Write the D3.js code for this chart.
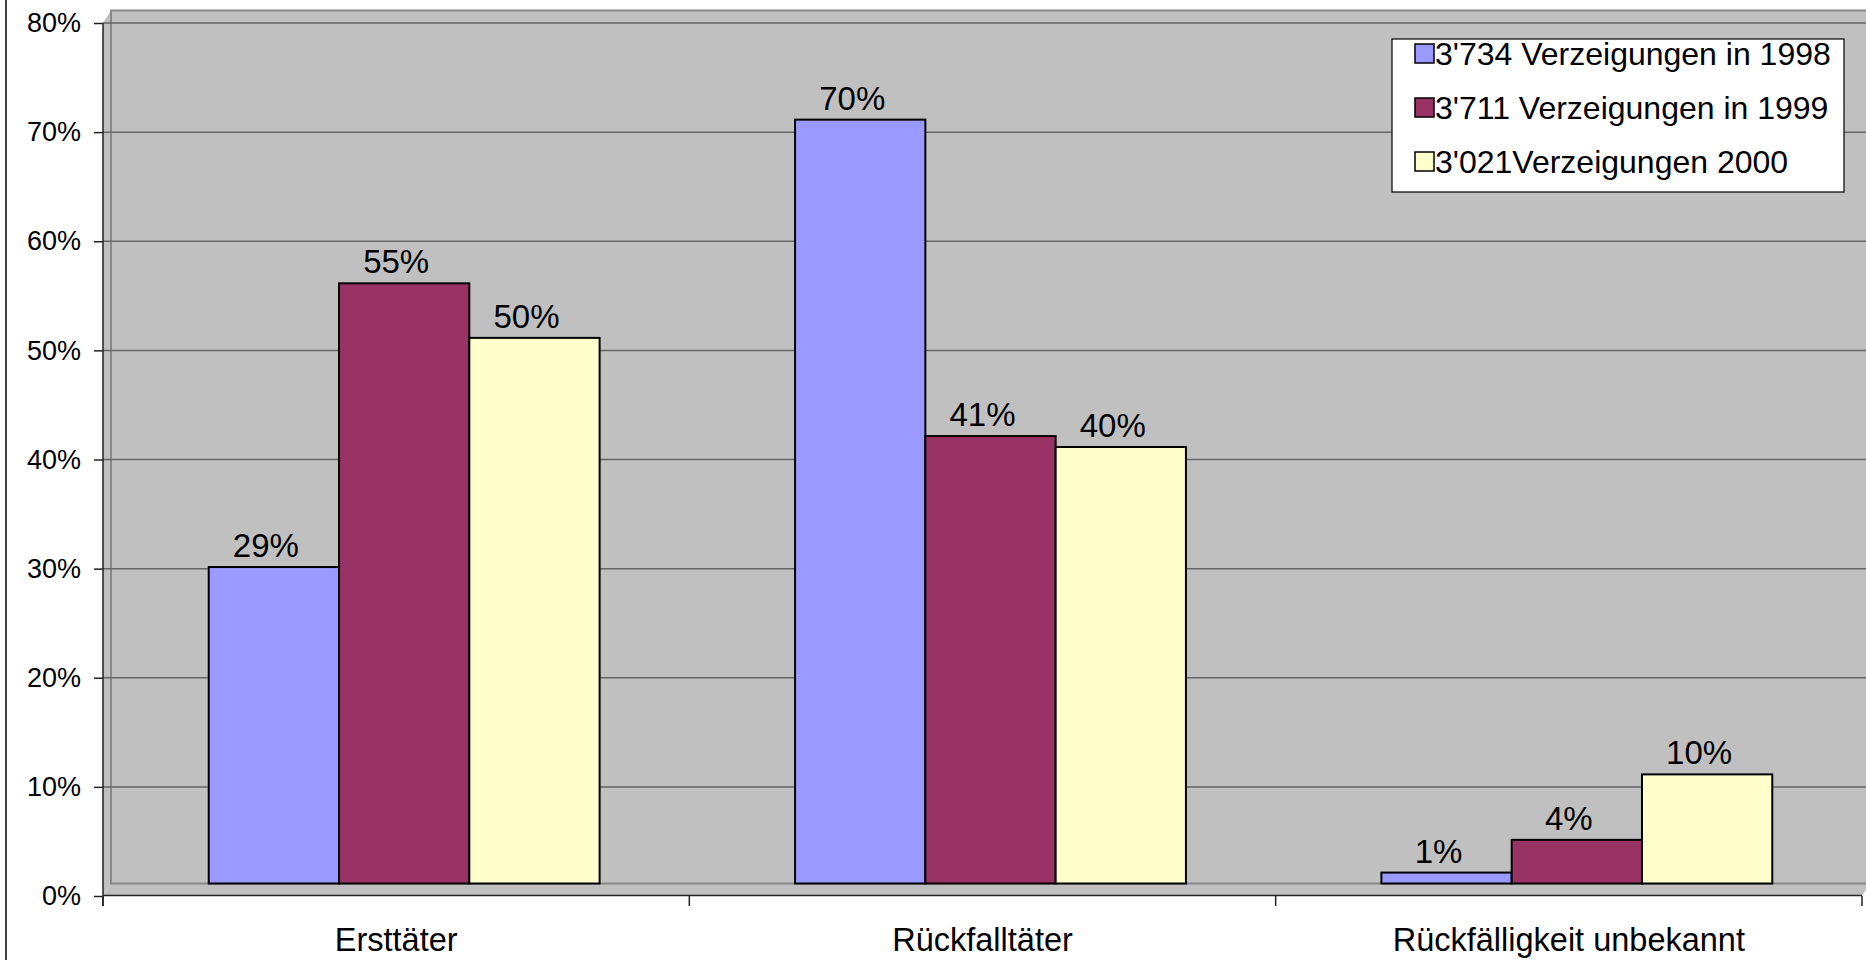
<!DOCTYPE html>
<html>
<head>
<meta charset="utf-8">
<script src="https://cdnjs.cloudflare.com/ajax/libs/d3/7.8.5/d3.min.js"></script>
<style>
  body { margin: 0; background: #fff; }
  text { font-family: "Liberation Sans", Arial, sans-serif; fill: #000; }
</style>
</head>
<body>
<div id="container"></div>
<script>
'use strict'
// data
const categories = ['Ersttäter', 'Rückfalltäter', 'Rückfälligkeit unbekannt'];
const seriesNames = ["3'734 Verzeigungen in 1998", "3'711 Verzeigungen in 1999", "3'021Verzeigungen 2000"];
const values1998 = [29, 70, 1];
const values1999 = [55, 41, 4];
const values2000 = [50, 40, 10];
const yTicks = [0, 10, 20, 30, 40, 50, 60, 70, 80];
const colors = ['#9999ff', '#993366', '#ffffcc'];

const width = 1866, height = 960;
const allValues = [values1998, values1999, values2000];

// pseudo 3d depth of the excel chart
const dx = 8, dy = -12.5;

const svg = d3.select('#container').append('svg')
    .attr('width', width)
    .attr('height', height);

const y = d3.scaleLinear().domain([0, 80]).range([896, 23]);
const x0 = d3.scaleBand().domain(categories).range([103, 1862]);
const x1 = d3.scaleBand().domain(seriesNames).range([0, x0.bandwidth()]).paddingOuter(0.75);

// chart frame left line
svg.append('line')
    .attr('x1', 6).attr('x2', 6).attr('y1', 0).attr('y2', height)
    .attr('stroke', '#000').attr('stroke-width', 1.5);

const xl = x0.range()[0], xr = x0.range()[1];
const y0 = y(0), yTop = y(80);

// side wall
svg.append('polygon')
    .attr('points', [[xl, yTop], [xl + dx, yTop + dy], [xl + dx, y0 + dy], [xl, y0]].join(' '))
    .attr('fill', '#c0c0c0');
// floor
svg.append('polygon')
    .attr('points', [[xl, y0], [xl + dx, y0 + dy], [xr + dx, y0 + dy], [xr, y0]].join(' '))
    .attr('fill', '#c0c0c0');
// back wall
svg.append('rect')
    .attr('x', xl + dx).attr('y', yTop + dy)
    .attr('width', xr - xl + 10).attr('height', y0 - yTop)
    .attr('fill', '#c0c0c0').attr('stroke', '#888').attr('stroke-width', 2);

// gridlines
svg.append('g').selectAll('line')
    .data(yTicks.filter(d => d > 0))
    .enter().append('line')
    .attr('x1', xl).attr('x2', width)
    .attr('y1', d => y(d)).attr('y2', d => y(d))
    .attr('stroke', '#666').attr('stroke-width', 1.5);

// front edge of floor
svg.append('line')
    .attr('x1', xl).attr('x2', xr).attr('y1', y0 - 0.5).attr('y2', y0 - 0.5)
    .attr('stroke', '#222').attr('stroke-width', 1.5);

// bars
const groups = svg.append('g').selectAll('g')
    .data(seriesNames)
    .enter().append('g');

groups.each(function(s, si) {
    const vals = allValues[si];
    const g = d3.select(this);
    g.selectAll('rect')
        .data(categories)
        .enter().append('rect')
        .attr('x', (c) => x0(c) + x1(s) + dx)
        .attr('y', (c, i) => y(vals[i]) + dy)
        .attr('width', x1.bandwidth())
        .attr('height', (c, i) => y(0) - y(vals[i]))
        .attr('fill', colors[si])
        .attr('stroke', '#000').attr('stroke-width', 2);
    g.selectAll('text')
        .data(categories)
        .enter().append('text')
        .attr('x', (c) => x0(c) + x1(s) + x1.bandwidth() / 2)
        .attr('y', (c, i) => y(vals[i]) + dy - 10)
        .attr('text-anchor', 'middle')
        .style('font-size', '33px')
        .text((c, i) => vals[i] + '%');
});

// y axis
const yAxis = svg.append('g')
    .attr('transform', 'translate(' + xl + ',0)')
    .call(d3.axisLeft(y).tickValues(yTicks).tickSize(9).tickPadding(13).tickFormat(d => d + '%'));
yAxis.select('.domain').attr('d', 'M0,' + yTop + 'V' + (y0 + 10)).attr('stroke', '#222').attr('stroke-width', 1.5);
yAxis.selectAll('.tick line').attr('stroke', '#222').attr('stroke-width', 1.5);
yAxis.selectAll('.tick text').style('font-size', '27px').style('font-family', '"Liberation Sans", Arial, sans-serif');

// x axis
const xTicks = categories.map(c => x0(c)).concat([xr]);
svg.append('g').selectAll('line')
    .data(xTicks)
    .enter().append('line')
    .attr('x1', d => d).attr('x2', d => d)
    .attr('y1', y0).attr('y2', y0 + 10)
    .attr('stroke', '#222').attr('stroke-width', 1.5);
svg.append('g').selectAll('text')
    .data(categories)
    .enter().append('text')
    .attr('x', c => x0(c) + x0.bandwidth() / 2)
    .attr('y', 951)
    .attr('text-anchor', 'middle')
    .style('font-size', '32.5px')
    .text(c => c);

// legend
const legend = svg.append('g');
legend.append('rect')
    .attr('x', 1392).attr('y', 39).attr('width', 452).attr('height', 153)
    .attr('fill', '#fff').attr('stroke', '#000').attr('stroke-width', 1.2);
const item = legend.selectAll('.item')
    .data(seriesNames)
    .enter().append('g')
    .attr('class', 'item')
    .attr('transform', (d, i) => 'translate(1415,' + (65 + i * 54) + ')');
item.append('rect')
    .attr('x', 0).attr('y', -21).attr('width', 19).attr('height', 19)
    .attr('fill', (d, i) => colors[i])
    .attr('stroke', '#000').attr('stroke-width', 1.5);
item.append('text')
    .attr('x', 20).attr('y', 0)
    .style('font-size', '32px')
    .text(d => d);
</script>
</body>
</html>
